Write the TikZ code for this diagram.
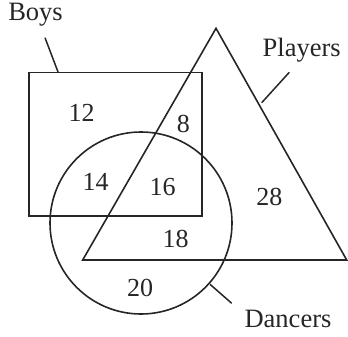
\documentclass[tikz,border=0pt]{standalone}
\usepackage{fontspec}
\setmainfont{Liberation Serif}
\begin{document}
\begin{tikzpicture}[x=1pt,y=-1pt,
  shape line/.style={line width=1.6pt,black!85},
  lead/.style={line width=1.5pt,black!85},
  lbl/.style={font=\fontsize{26.5}{30}\selectfont,text=black!85,inner sep=0pt},
  num/.style={font=\fontsize{26}{30}\selectfont,text=black!85,inner sep=0pt}]
\useasboundingbox (0,0) rectangle (348,337);
% sets
\draw[shape line] (29,72.7) rectangle (201.7,216);
\draw[shape line] (216,28.3) -- (82.7,260) -- (346.7,260) -- cycle;
\draw[shape line] (141,223) circle (91);
% labels
\node[lbl] (boys) at (35.5,15) {Boys};
\node[lbl] (players) at (301.7,50) {Players};
\node[lbl] (dancers) at (288,319) {Dancers};
\coordinate (b1) at (45,37.7);
\coordinate (b2) at (58.3,72.7);
\coordinate (p1) at (289.3,72.3);
\coordinate (p2) at (261.7,102.7);
\coordinate (d1) at (231.7,303.3);
\coordinate (d2) at (210,284.3);
\draw[lead] (b1) -- (b2);
\draw[lead] (p1) -- (p2);
\draw[lead] (d1) -- (d2);
% numbers
\node[num] (n12) at (81.7,112.7) {12};
\node[num] (n8) at (183.3,124) {8};
\node[num] (n14) at (95.7,182.3) {14};
\node[num] (n16) at (162.7,186.7) {16};
\node[num] (n28) at (269.3,196.7) {28};
\node[num] (n18) at (175.7,239.3) {18};
\node[num] (n20) at (140,287.7) {20};
\end{tikzpicture}
\end{document}
